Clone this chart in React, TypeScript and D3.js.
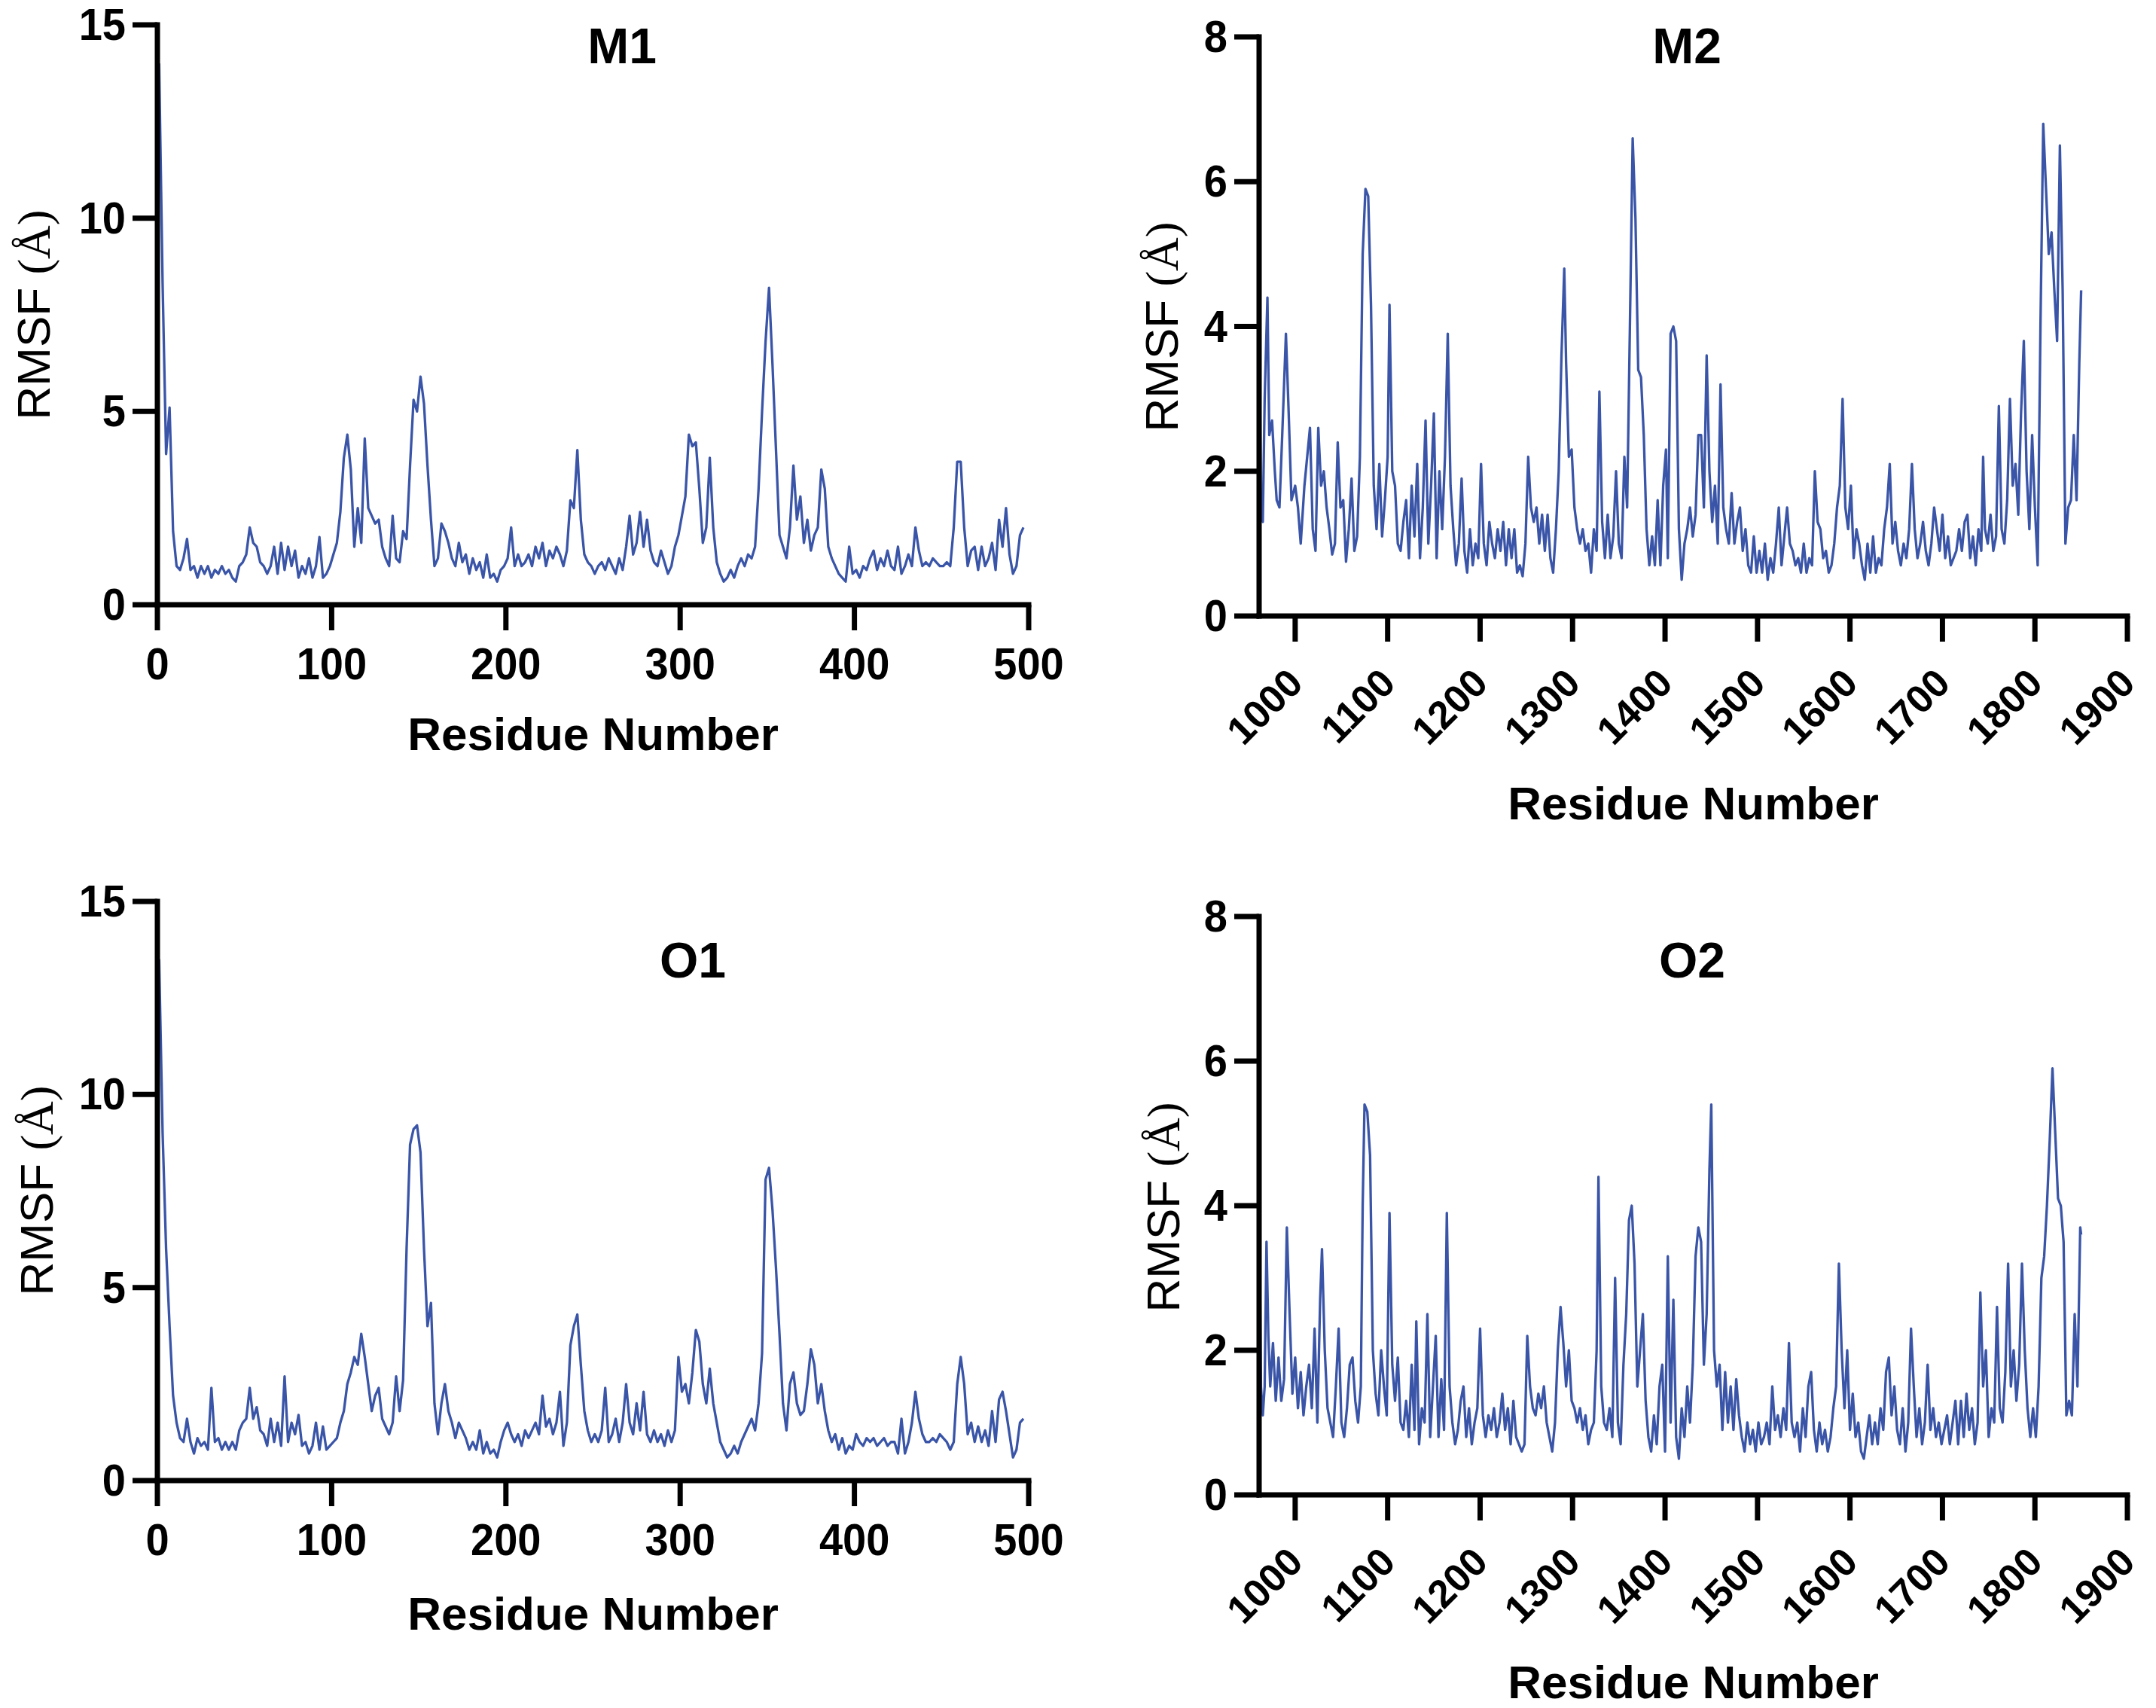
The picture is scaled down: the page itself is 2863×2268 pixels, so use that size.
import React from 'react';
import * as d3 from 'd3';

// ---- RMSF profiles -------------------------------------------------------
// M1 / O1: one value every second residue starting at residue 1
const m1Start = 1;
const m1Step = 2;
const m1Rmsf = [
  14.0, 8.3, 3.9, 5.1, 1.9, 1.0, 0.9, 1.2, 1.7, 0.9, 1.0, 0.7, 1.0, 0.8, 1.0, 0.7, 0.9, 0.8, 1.0, 0.8,
  0.9, 0.7, 0.6, 1.0, 1.1, 1.3, 2.0, 1.6, 1.5, 1.1, 1.0, 0.8, 1.0, 1.5, 0.8, 1.6, 0.9, 1.5, 1.0, 1.4,
  0.7, 1.0, 0.8, 1.2, 0.7, 1.0, 1.75, 0.7, 0.8, 1.0, 1.3, 1.6, 2.4, 3.8, 4.4, 3.5, 1.5, 2.5, 1.6, 4.3,
  2.5, 2.3, 2.1, 2.2, 1.5, 1.2, 1.0, 2.3, 1.2, 1.1, 1.9, 1.7, 3.6, 5.3, 5.0, 5.9, 5.2, 3.6, 2.2, 1.0,
  1.2, 2.1, 1.9, 1.6, 1.2, 1.0, 1.6, 1.1, 1.3, 0.8, 1.2, 0.9, 1.1, 0.7, 1.3, 0.7, 0.8, 0.6, 0.9, 1.0,
  1.2, 2.0, 1.0, 1.3, 1.0, 1.1, 1.3, 1.0, 1.5, 1.2, 1.6, 1.0, 1.4, 1.2, 1.5, 1.3, 1.0, 1.4, 2.7, 2.5,
  4.0, 2.2, 1.3, 1.1, 1.0, 0.8, 1.0, 1.1, 0.9, 1.2, 1.0, 0.8, 1.2, 0.9, 1.5, 2.3, 1.3, 1.6, 2.4, 1.5,
  2.2, 1.4, 1.1, 1.0, 1.4, 1.1, 0.8, 1.0, 1.5, 1.8, 2.3, 2.8, 4.4, 4.1, 4.2, 3.0, 1.6, 2.0, 3.8, 2.0,
  1.1, 0.8, 0.6, 0.7, 0.9, 0.7, 1.0, 1.2, 1.0, 1.3, 1.2, 1.5, 3.0, 5.0, 6.8, 8.2, 6.2, 4.0, 1.8, 1.5,
  1.2, 2.0, 3.6, 2.2, 2.8, 1.6, 2.2, 1.4, 1.8, 2.0, 3.5, 3.0, 1.5, 1.2, 1.0, 0.8, 0.7, 0.6, 1.5, 0.8,
  0.9, 0.7, 1.0, 0.9, 1.2, 1.4, 0.9, 1.2, 1.0, 1.4, 1.0, 0.9, 1.5, 0.8, 1.0, 1.3, 1.0, 2.0, 1.4, 1.0,
  1.1, 1.0, 1.2, 1.1, 1.0, 1.0, 1.1, 1.0, 2.0, 3.7, 3.7, 2.0, 1.0, 1.4, 1.5, 0.9, 1.5, 1.0, 1.2, 1.6,
  0.9, 2.2, 1.5, 2.5, 1.3, 0.8, 1.0, 1.8, 2.0,
];

const o1Start = 1;
const o1Step = 2;
const o1Rmsf = [
  13.5, 9.0, 6.0, 4.0, 2.2, 1.5, 1.1, 1.0, 1.6, 1.0, 0.7, 1.1, 0.9, 1.0, 0.8, 2.4, 1.0, 1.1, 0.8, 1.0,
  0.8, 1.0, 0.8, 1.3, 1.5, 1.6, 2.4, 1.6, 1.9, 1.3, 1.2, 0.9, 1.6, 1.0, 1.5, 0.9, 2.7, 1.0, 1.5, 1.2,
  1.7, 0.9, 1.0, 0.7, 0.9, 1.5, 0.8, 1.4, 0.8, 0.9, 1.0, 1.1, 1.5, 1.8, 2.5, 2.8, 3.2, 3.0, 3.8, 3.2,
  2.5, 1.8, 2.2, 2.4, 1.6, 1.4, 1.2, 1.5, 2.7, 1.8, 2.6, 6.0, 8.7, 9.1, 9.2, 8.5, 6.0, 4.0, 4.6, 2.0,
  1.2, 2.0, 2.5, 1.8, 1.5, 1.1, 1.5, 1.3, 1.1, 0.8, 1.0, 0.8, 1.3, 0.7, 1.0, 0.7, 0.8, 0.6, 1.0, 1.3,
  1.5, 1.2, 1.0, 1.2, 0.9, 1.3, 1.1, 1.3, 1.5, 1.2, 2.2, 1.4, 1.6, 1.2, 1.5, 2.3, 0.9, 1.5, 3.5, 4.0,
  4.3, 3.0, 1.8, 1.3, 1.0, 1.2, 1.0, 1.3, 2.4, 1.0, 1.2, 1.6, 1.0, 1.5, 2.5, 1.5, 1.2, 2.0, 1.3, 2.3,
  1.2, 1.0, 1.3, 1.0, 1.2, 0.9, 1.3, 1.0, 1.3, 3.2, 2.3, 2.5, 2.0, 2.8, 3.9, 3.6, 2.5, 2.0, 2.9, 2.0,
  1.5, 1.0, 0.8, 0.6, 0.7, 0.9, 0.7, 1.0, 1.2, 1.4, 1.6, 1.3, 2.0, 3.3, 7.8, 8.1, 7.0, 5.5, 3.8, 2.0,
  1.3, 2.5, 2.8, 2.0, 1.7, 1.8, 2.5, 3.4, 3.0, 2.0, 2.5, 1.8, 1.3, 1.0, 1.2, 0.8, 1.1, 0.7, 0.9, 0.8,
  1.2, 1.0, 0.9, 1.1, 1.0, 1.1, 0.9, 1.0, 1.1, 0.9, 1.0, 1.0, 0.7, 1.6, 0.7, 1.0, 1.5, 2.3, 1.6, 1.2,
  1.0, 1.0, 1.1, 1.0, 1.2, 1.1, 1.0, 0.8, 1.0, 2.5, 3.2, 2.5, 1.2, 1.5, 1.0, 1.4, 1.0, 1.3, 0.9, 1.8,
  1.0, 2.1, 2.3, 1.8, 1.2, 0.6, 0.8, 1.5, 1.6,
];

// M2 / O2: [residue, RMSF] pairs
const m2Profile: [number, number][] = [
  [961, 6.6], [962, 3.0], [963, 1.4], [965, 1.3], [967, 3.0], [970, 4.4], [972, 2.5], [975, 2.7], [978, 2.0], [980, 1.6],
  [983, 1.5], [986, 2.5], [990, 3.9], [993, 2.8], [996, 1.6], [1000, 1.8], [1003, 1.5], [1006, 1.0], [1010, 1.8], [1013, 2.2],
  [1016, 2.6], [1019, 1.2], [1022, 0.9], [1025, 2.6], [1028, 1.8], [1031, 2.0], [1034, 1.5], [1037, 1.2], [1040, 0.85], [1043, 1.0],
  [1046, 2.4], [1049, 1.5], [1052, 1.6], [1055, 0.75], [1058, 1.2], [1061, 1.9], [1064, 0.9], [1067, 1.1], [1070, 2.2], [1073, 5.0],
  [1076, 5.9], [1079, 5.8], [1082, 4.3], [1085, 1.8], [1088, 1.2], [1091, 2.1], [1094, 1.1], [1097, 1.6], [1100, 2.2], [1102, 4.3],
  [1105, 2.0], [1108, 1.8], [1111, 1.0], [1114, 0.9], [1117, 1.3], [1120, 1.6], [1123, 0.8], [1126, 1.8], [1129, 1.1], [1132, 2.1],
  [1135, 0.8], [1138, 1.5], [1141, 2.7], [1144, 1.0], [1147, 1.8], [1150, 2.8], [1153, 0.8], [1156, 2.0], [1159, 1.2], [1162, 2.2],
  [1165, 3.9], [1168, 1.8], [1171, 1.2], [1174, 0.7], [1177, 1.0], [1180, 1.9], [1183, 0.9], [1186, 0.6], [1189, 1.2], [1192, 0.7],
  [1195, 1.0], [1198, 0.8], [1201, 2.1], [1204, 1.0], [1207, 0.7], [1210, 1.3], [1213, 1.0], [1216, 0.8], [1219, 1.2], [1222, 0.9],
  [1225, 1.3], [1228, 0.7], [1231, 1.2], [1234, 0.8], [1237, 1.2], [1240, 0.6], [1243, 0.7], [1246, 0.55], [1249, 1.0], [1252, 2.2],
  [1255, 1.5], [1258, 1.3], [1261, 1.5], [1264, 1.0], [1267, 1.4], [1270, 0.9], [1273, 1.4], [1276, 0.8], [1279, 0.6], [1282, 1.2],
  [1285, 2.0], [1288, 3.6], [1291, 4.8], [1293, 3.5], [1296, 2.2], [1299, 2.3], [1302, 1.5], [1305, 1.2], [1308, 1.0], [1311, 1.2],
  [1314, 0.9], [1317, 1.0], [1320, 0.6], [1323, 1.2], [1326, 0.9], [1329, 3.1], [1332, 1.3], [1335, 0.8], [1338, 1.4], [1341, 0.8],
  [1344, 1.1], [1347, 2.0], [1350, 1.0], [1353, 0.8], [1356, 2.2], [1359, 1.5], [1362, 4.0], [1365, 6.6], [1368, 5.5], [1371, 3.4],
  [1374, 3.3], [1377, 2.5], [1380, 1.2], [1383, 0.7], [1386, 1.1], [1389, 0.7], [1392, 1.6], [1395, 0.7], [1398, 1.8], [1401, 2.3],
  [1403, 0.8], [1406, 3.9], [1409, 4.0], [1412, 3.8], [1415, 1.2], [1418, 0.5], [1421, 1.0], [1424, 1.2], [1427, 1.5], [1430, 1.1],
  [1433, 1.4], [1436, 2.5], [1439, 2.5], [1442, 1.5], [1445, 3.6], [1448, 2.0], [1451, 1.3], [1454, 1.8], [1457, 1.0], [1460, 3.2],
  [1463, 1.5], [1466, 1.2], [1469, 1.0], [1472, 1.7], [1475, 1.0], [1478, 1.3], [1481, 1.5], [1484, 0.9], [1487, 1.2], [1490, 0.7],
  [1493, 0.6], [1496, 1.1], [1499, 0.6], [1502, 0.9], [1505, 0.6], [1508, 1.0], [1511, 0.5], [1514, 0.8], [1517, 0.6], [1520, 1.0],
  [1523, 1.5], [1526, 0.7], [1529, 1.1], [1532, 1.5], [1535, 1.0], [1538, 0.9], [1541, 0.7], [1544, 0.8], [1547, 0.6], [1550, 1.0],
  [1553, 0.6], [1556, 0.8], [1559, 0.7], [1562, 2.0], [1565, 1.3], [1568, 1.2], [1571, 0.8], [1574, 0.9], [1577, 0.6], [1580, 0.7],
  [1583, 1.0], [1586, 1.5], [1589, 1.8], [1592, 3.0], [1595, 1.5], [1598, 1.2], [1601, 1.8], [1604, 0.8], [1607, 1.2], [1610, 1.0],
  [1613, 0.7], [1616, 0.5], [1619, 1.0], [1622, 0.6], [1625, 1.1], [1628, 0.6], [1631, 0.8], [1634, 0.7], [1637, 1.2], [1640, 1.5],
  [1643, 2.1], [1646, 1.0], [1649, 1.3], [1652, 0.9], [1655, 0.7], [1658, 1.0], [1661, 0.8], [1664, 1.2], [1667, 2.1], [1670, 1.2],
  [1673, 0.8], [1676, 1.0], [1679, 1.3], [1682, 0.9], [1685, 0.7], [1688, 1.0], [1691, 1.5], [1694, 1.2], [1697, 0.9], [1700, 1.4],
  [1703, 0.8], [1706, 1.1], [1709, 0.7], [1712, 0.8], [1715, 0.9], [1718, 1.2], [1721, 0.9], [1724, 1.3], [1727, 1.4], [1730, 0.8],
  [1733, 1.1], [1736, 0.7], [1739, 1.2], [1742, 0.9], [1744, 2.2], [1746, 1.2], [1749, 1.0], [1752, 1.4], [1755, 0.9], [1758, 1.1],
  [1761, 2.9], [1764, 1.2], [1767, 1.0], [1770, 1.6], [1773, 3.0], [1776, 1.8], [1779, 2.1], [1782, 1.4], [1785, 2.8], [1788, 3.8],
  [1791, 2.0], [1794, 1.2], [1797, 2.5], [1800, 1.5], [1803, 0.7], [1806, 4.0], [1809, 6.8], [1812, 5.9], [1815, 5.0], [1818, 5.3],
  [1821, 4.5], [1824, 3.8], [1827, 6.5], [1830, 4.5], [1833, 1.0], [1836, 1.5], [1839, 1.6], [1842, 2.5], [1845, 1.6], [1848, 3.5],
  [1850, 4.5],
];

const o2Profile: [number, number][] = [
  [961, 4.2], [963, 1.5], [965, 1.1], [967, 1.5], [969, 3.5], [971, 2.2], [973, 1.5], [976, 2.1], [979, 1.3], [982, 1.9],
  [985, 1.3], [988, 1.6], [991, 3.7], [994, 2.5], [997, 1.4], [1000, 1.9], [1003, 1.2], [1006, 1.7], [1009, 1.1], [1012, 1.5],
  [1015, 1.8], [1018, 1.2], [1021, 2.3], [1024, 1.0], [1027, 2.7], [1029, 3.4], [1032, 2.0], [1035, 1.2], [1038, 1.0], [1041, 0.8],
  [1044, 1.5], [1047, 2.3], [1050, 1.0], [1053, 0.8], [1056, 1.2], [1059, 1.8], [1062, 1.9], [1065, 1.3], [1068, 1.0], [1071, 1.5],
  [1073, 4.0], [1075, 5.4], [1078, 5.3], [1081, 4.7], [1084, 2.0], [1087, 1.4], [1090, 1.1], [1093, 2.0], [1096, 1.5], [1099, 1.1],
  [1102, 3.9], [1105, 1.8], [1108, 1.3], [1111, 1.9], [1114, 1.0], [1117, 0.9], [1120, 1.3], [1123, 0.8], [1126, 1.8], [1129, 0.9],
  [1131, 2.4], [1134, 0.7], [1137, 1.2], [1140, 1.0], [1143, 2.5], [1146, 0.8], [1149, 1.5], [1152, 2.2], [1155, 0.8], [1158, 1.6],
  [1161, 0.9], [1164, 3.9], [1167, 1.5], [1170, 1.0], [1173, 0.7], [1176, 0.9], [1179, 1.3], [1182, 1.5], [1185, 0.8], [1188, 1.2],
  [1191, 0.7], [1194, 1.0], [1197, 1.2], [1200, 2.3], [1203, 1.1], [1206, 0.8], [1209, 1.1], [1212, 0.9], [1215, 1.2], [1218, 0.8],
  [1221, 1.0], [1224, 1.4], [1227, 0.9], [1230, 1.2], [1233, 0.7], [1236, 1.3], [1239, 0.8], [1242, 0.7], [1245, 0.6], [1248, 0.7],
  [1251, 2.2], [1254, 1.5], [1257, 1.2], [1260, 1.1], [1263, 1.4], [1266, 1.2], [1269, 1.5], [1272, 1.0], [1275, 0.8], [1278, 0.6],
  [1281, 1.0], [1284, 2.0], [1287, 2.6], [1290, 2.1], [1293, 1.5], [1296, 2.0], [1299, 1.3], [1302, 1.2], [1305, 1.0], [1308, 1.2],
  [1311, 0.9], [1314, 1.1], [1317, 0.7], [1320, 0.9], [1323, 1.0], [1326, 2.0], [1328, 4.4], [1331, 1.5], [1334, 1.0], [1337, 0.9],
  [1340, 1.2], [1343, 0.8], [1346, 3.0], [1349, 1.0], [1352, 0.7], [1355, 1.8], [1358, 2.5], [1361, 3.8], [1364, 4.0], [1367, 3.2],
  [1370, 1.5], [1373, 2.0], [1376, 2.5], [1379, 1.3], [1382, 0.8], [1385, 0.6], [1388, 1.1], [1391, 0.7], [1394, 1.5], [1397, 1.8],
  [1400, 0.6], [1403, 3.3], [1406, 1.0], [1409, 2.7], [1412, 0.8], [1415, 0.5], [1418, 1.2], [1421, 0.8], [1424, 1.5], [1427, 1.0],
  [1430, 1.8], [1433, 3.3], [1436, 3.7], [1439, 3.5], [1442, 1.8], [1445, 2.5], [1448, 4.5], [1450, 5.4], [1453, 2.0], [1456, 1.5],
  [1459, 1.8], [1462, 0.9], [1465, 1.7], [1468, 1.0], [1471, 1.5], [1474, 0.9], [1477, 1.6], [1480, 1.1], [1483, 0.8], [1486, 0.6],
  [1489, 1.0], [1492, 0.7], [1495, 0.9], [1498, 0.6], [1501, 1.0], [1504, 0.7], [1507, 0.8], [1510, 1.0], [1513, 0.7], [1516, 1.5],
  [1519, 0.9], [1522, 1.1], [1525, 0.8], [1528, 1.2], [1531, 0.9], [1534, 2.1], [1537, 1.0], [1540, 0.8], [1543, 1.0], [1546, 0.6],
  [1549, 1.2], [1552, 0.8], [1555, 1.5], [1558, 1.7], [1561, 0.9], [1564, 0.6], [1567, 1.0], [1570, 0.7], [1573, 0.9], [1576, 0.6],
  [1579, 0.8], [1582, 1.2], [1585, 1.5], [1588, 3.2], [1591, 2.0], [1594, 1.2], [1597, 2.0], [1600, 0.9], [1603, 1.4], [1606, 0.8],
  [1609, 1.0], [1612, 0.6], [1615, 0.5], [1618, 0.8], [1621, 1.1], [1624, 0.7], [1627, 1.0], [1630, 0.7], [1633, 1.2], [1636, 0.9],
  [1639, 1.7], [1642, 1.9], [1645, 1.1], [1648, 1.5], [1651, 0.9], [1654, 0.7], [1657, 1.2], [1660, 0.6], [1663, 1.0], [1666, 2.3],
  [1669, 1.5], [1672, 0.8], [1675, 1.2], [1678, 0.7], [1681, 1.0], [1684, 1.8], [1687, 0.9], [1690, 1.2], [1693, 0.8], [1696, 1.0],
  [1699, 0.7], [1702, 0.9], [1705, 1.1], [1708, 0.7], [1711, 1.0], [1714, 1.3], [1717, 0.7], [1720, 1.3], [1723, 0.8], [1726, 1.4],
  [1729, 0.9], [1732, 1.2], [1735, 0.7], [1738, 1.0], [1741, 2.8], [1744, 1.5], [1747, 2.0], [1750, 0.8], [1753, 1.2], [1756, 1.0],
  [1759, 2.6], [1762, 1.2], [1765, 1.0], [1768, 1.7], [1771, 3.2], [1774, 1.5], [1777, 2.0], [1780, 1.3], [1783, 1.8], [1786, 3.2],
  [1789, 2.0], [1792, 1.2], [1795, 0.8], [1798, 1.2], [1801, 0.8], [1804, 1.5], [1807, 3.0], [1810, 3.3], [1813, 4.0], [1816, 4.9],
  [1819, 5.9], [1822, 5.0], [1825, 4.1], [1828, 4.0], [1831, 3.5], [1834, 1.1], [1837, 1.3], [1840, 1.1], [1843, 2.5], [1846, 1.5],
  [1849, 3.7], [1850, 3.6],
];

// ---- axis settings ---------------------------------------------------------
const shortXTicks = [0, 100, 200, 300, 400, 500];
const longXTicks = [1000, 1100, 1200, 1300, 1400, 1500, 1600, 1700, 1800, 1900];
const yTicks15 = [0, 5, 10, 15];
const yTicks8 = [0, 2, 4, 6, 8];
const shortXDomain: [number, number] = [0, 500];
const longXDomain: [number, number] = [961, 1900];
const panelTitles = ['M1', 'M2', 'O1', 'O2'];
const xAxisTitle = 'Residue Number';

const LINE_COLOR = '#3a55a8';
const SANS = "'Liberation Sans', Arial, Helvetica, sans-serif";
const SERIF = "'Liberation Serif', 'Times New Roman', serif";

type Pt = [number, number];

function evenSeries(start: number, step: number, values: number[]): Pt[] {
  return values.map((v, i) => [start + i * step, v] as Pt);
}

interface PanelProps {
  title: string;
  data: Pt[];
  xDomain: [number, number];
  yDomain: [number, number];
  xTicks: number[];
  yTicks: number[];
  left: number;
  right: number;
  top: number;
  bottom: number;
  rotateX: boolean;
  titleX: number;
  titleY: number;
  xLabelY: number;
  yLabelX: number;
  yLabelY: number;
}

function Panel(p: PanelProps) {
  const x = d3.scaleLinear().domain(p.xDomain).range([p.left, p.right]);
  const y = d3.scaleLinear().domain(p.yDomain).range([p.bottom, p.top]);
  const line = d3
    .line<Pt>()
    .x((d) => x(d[0]))
    .y((d) => y(d[1]));
  const x0 = x(p.xDomain[0]);
  const y0 = y(0);
  const tickLen = 33;
  const axisW = 7;
  const tickFont = 56;
  const xMid = (x(p.xDomain[0]) + x(p.xDomain[1])) / 2;

  return (
    <g>
      <path
        d={line(p.data) || ''}
        fill="none"
        stroke={LINE_COLOR}
        strokeWidth={3.3}
        strokeLinejoin="round"
      />
      {/* axes */}
      <line x1={x0} x2={x0} y1={y(p.yDomain[1])} y2={y0} stroke="#000" strokeWidth={axisW} strokeLinecap="square" />
      <line x1={x0} x2={x(p.xDomain[1])} y1={y0} y2={y0} stroke="#000" strokeWidth={axisW} strokeLinecap="square" />
      {p.yTicks.map((t) => (
        <g key={'y' + t}>
          <line x1={x0 - tickLen} x2={x0} y1={y(t)} y2={y(t)} stroke="#000" strokeWidth={axisW} />
          <text
            transform={`translate(${x0 - tickLen - 9},${y(t) + 20}) scale(1,1.06)`}
            textAnchor="end"
            fontFamily={SANS}
            fontWeight="bold"
            fontSize={tickFont}
            fill="#000"
          >
            {t}
          </text>
        </g>
      ))}
      {p.xTicks.map((t) => (
        <g key={'x' + t}>
          <line x1={x(t)} x2={x(t)} y1={y0} y2={y0 + 34} stroke="#000" strokeWidth={axisW} />
          {p.rotateX ? (
            <text
              transform={`translate(${x(t) + 13},${y0 + 92}) rotate(-45)`}
              textAnchor="end"
              fontFamily={SANS}
              fontWeight="bold"
              fontSize={52}
              fill="#000"
            >
              {t}
            </text>
          ) : (
            <text
              transform={`translate(${x(t)},${y0 + 99}) scale(1,1.06)`}
              textAnchor="middle"
              fontFamily={SANS}
              fontWeight="bold"
              fontSize={tickFont}
              fill="#000"
            >
              {t}
            </text>
          )}
        </g>
      ))}
      {/* titles */}
      <text x={p.titleX} y={p.titleY} textAnchor="middle" fontFamily={SANS} fontWeight="bold" fontSize={66} fill="#000">
        {p.title}
      </text>
      <text x={xMid} y={p.xLabelY} textAnchor="middle" fontFamily={SANS} fontWeight="bold" fontSize={62} fill="#000">
        {xAxisTitle}
      </text>
      <text
        transform={`translate(${p.yLabelX},${p.yLabelY}) rotate(-90)`}
        textAnchor="middle"
        fontFamily={SANS}
        fontSize={62}
        fill="#000"
      >
        RMSF <tspan fontFamily={SERIF}>(Å)</tspan>
      </text>
    </g>
  );
}

export default function App() {
  const m1 = evenSeries(m1Start, m1Step, m1Rmsf);
  const o1 = evenSeries(o1Start, o1Step, o1Rmsf);
  return (
    <svg
      width={2863}
      height={2268}
      viewBox="0 0 2863 2268"
      style={{ position: 'absolute', left: 0, top: 0, background: '#fff' }}
    >
      <rect width={2863} height={2268} fill="#fff" />
      <Panel
        title={panelTitles[0]}
        data={m1}
        xDomain={shortXDomain}
        yDomain={[0, 15]}
        xTicks={shortXTicks}
        yTicks={yTicks15}
        left={209}
        right={1366}
        top={33}
        bottom={803}
        rotateX={false}
        titleX={826}
        titleY={84}
        xLabelY={996}
        yLabelX={66}
        yLabelY={418}
      />
      <Panel
        title={panelTitles[1]}
        data={m2Profile}
        xDomain={longXDomain}
        yDomain={[0, 8]}
        xTicks={longXTicks}
        yTicks={yTicks8}
        left={1672}
        right={2825}
        top={49}
        bottom={818}
        rotateX={true}
        titleX={2240}
        titleY={84}
        xLabelY={1088}
        yLabelX={1564}
        yLabelY={434}
      />
      <Panel
        title={panelTitles[2]}
        data={o1}
        xDomain={shortXDomain}
        yDomain={[0, 15]}
        xTicks={shortXTicks}
        yTicks={yTicks15}
        left={209}
        right={1366}
        top={1197}
        bottom={1966}
        rotateX={false}
        titleX={920}
        titleY={1298}
        xLabelY={2164}
        yLabelX={70}
        yLabelY={1581}
      />
      <Panel
        title={panelTitles[3]}
        data={o2Profile}
        xDomain={longXDomain}
        yDomain={[0, 8]}
        xTicks={longXTicks}
        yTicks={yTicks8}
        left={1672}
        right={2825}
        top={1217}
        bottom={1985}
        rotateX={true}
        titleX={2247}
        titleY={1298}
        xLabelY={2255}
        yLabelX={1566}
        yLabelY={1603}
      />
    </svg>
  );
}
